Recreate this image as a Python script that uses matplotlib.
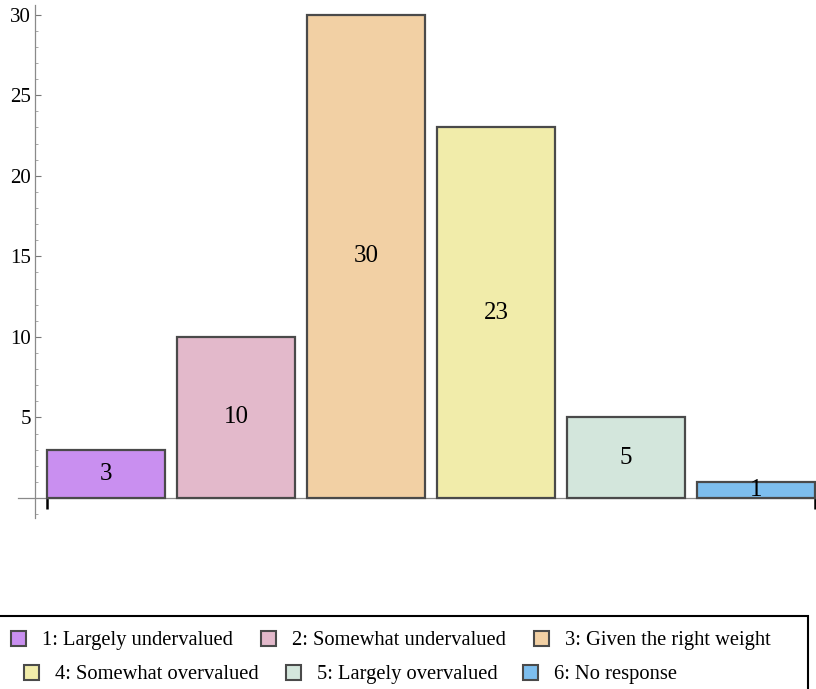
import matplotlib
matplotlib.use("Agg")
import matplotlib.pyplot as plt
from matplotlib.patches import Rectangle
from matplotlib.ticker import MultipleLocator

categories = ["1: Largely undervalued", "2: Somewhat undervalued", "3: Given the right weight",
              "4: Somewhat overvalued", "5: Largely overvalued", "6: No response"]
counts = [3, 10, 30, 23, 5, 1]
colors = ["#C98FF0", "#E3B9CB", "#F2D0A4", "#F1ECAA", "#D3E6DC", "#7DBEEE"]

W, H = 816, 689
plt.rcParams["font.family"] = ["Liberation Serif", "DejaVu Serif"]

fig = plt.figure(figsize=(W / 100, H / 100), dpi=100)

# axes box in pixel terms: x from 18 to 816, y from 5 (top) to 518 (bottom)
def fx(px):
    return px / W

def fy(py):
    return 1 - py / H

ax = fig.add_axes([fx(18), fy(518), fx(816) - fx(18), fy(5) - fy(518)])

width = 118 / 130
pos = list(range(len(counts)))
bars = ax.bar(pos, counts, width=width, color=colors, edgecolor="#4a4a4a", linewidth=1.6, zorder=3)

for p, v in zip(pos, counts):
    ax.text(p, v / 2, str(v), ha="center", va="center", fontsize=18, color="black", zorder=4)

ax.set_xlim((18 - 106) / 130, (816 - 106) / 130)
ax.set_ylim(-1.24, 30.6)

for s in ["top", "right"]:
    ax.spines[s].set_visible(False)
ax.spines["left"].set_position(("data", (35 - 106) / 130))
ax.spines["bottom"].set_position(("data", 0))
ax.spines["left"].set_color("#8a8a8a")
ax.spines["bottom"].set_color("#8a8a8a")
ax.spines["left"].set_linewidth(0.9)
ax.spines["bottom"].set_linewidth(0.9)

ax.yaxis.set_major_locator(MultipleLocator(5))
ax.yaxis.set_minor_locator(MultipleLocator(1))
ax.set_yticks([5, 10, 15, 20, 25, 30])
ax.tick_params(axis="y", which="major", direction="in", length=4, width=0.8, color="#777777",
               labelsize=15, pad=3)
ax.tick_params(axis="y", which="minor", direction="in", length=2, width=0.6, color="#999999")

# ticks at the outer edges of the bar group
ax.set_xticks([pos[0] - width / 2, pos[-1] + width / 2])
ax.set_xticklabels([])
ax.tick_params(axis="x", direction="out", length=8, width=1.8, color="black")

# legend frame and entries
fig.patches.append(Rectangle((fx(-5), fy(700)), fx(808) - fx(-5), fy(616) - fy(700),
                             transform=fig.transFigure, fill=False, edgecolor="black",
                             linewidth=1.5, clip_on=False))

entry_pos = [(11, 638), (261, 638), (534, 638), (24, 672), (286, 672), (523, 672)]
sq = 15
for (x0, yc), lab, c in zip(entry_pos, categories, colors):
    fig.patches.append(Rectangle((fx(x0), fy(yc + sq / 2)), sq / W, sq / H,
                                 transform=fig.transFigure, facecolor=c,
                                 edgecolor="#4a4a4a", linewidth=1.5))
    fig.text(fx(x0 + sq + 16), fy(yc), lab, ha="left", va="center_baseline", fontsize=14.8)

fig.savefig("out.png", dpi=100)
